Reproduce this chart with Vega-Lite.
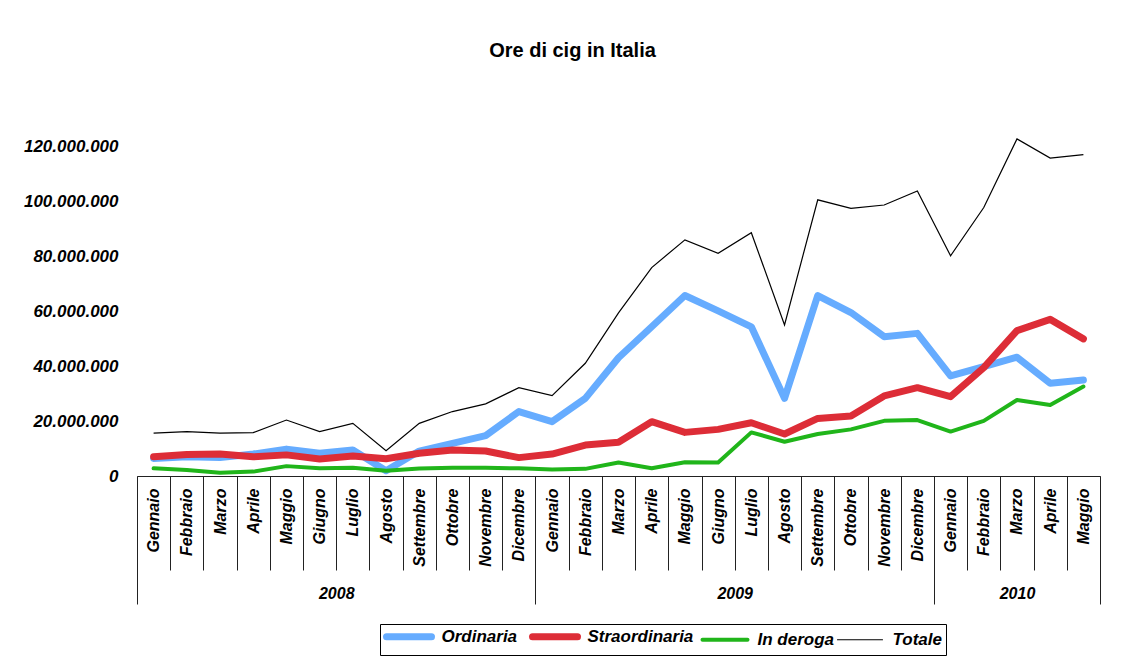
{
  "$schema": "https://vega.github.io/schema/vega-lite/v6.json",
  "width": 963,
  "height": 384,
  "autosize": {"type": "none"},
  "padding": {"left": 137, "top": 92, "right": 30, "bottom": 181},
  "background": "white",
  "title": {"text": "Ore di cig in Italia", "font": "Liberation Sans", "fontSize": 20, "fontWeight": "bold", "color": "black", "anchor": "middle", "dx": -46, "offset": 31},
  "datasets": {
    "cig": [
      {"i":0,"anno":2008,"mese":"Gennaio","serie":"Ordinaria","v":6400000},
      {"i":1,"anno":2008,"mese":"Febbraio","serie":"Ordinaria","v":7000000},
      {"i":2,"anno":2008,"mese":"Marzo","serie":"Ordinaria","v":6700000},
      {"i":3,"anno":2008,"mese":"Aprile","serie":"Ordinaria","v":8000000},
      {"i":4,"anno":2008,"mese":"Maggio","serie":"Ordinaria","v":9800000},
      {"i":5,"anno":2008,"mese":"Giugno","serie":"Ordinaria","v":8300000},
      {"i":6,"anno":2008,"mese":"Luglio","serie":"Ordinaria","v":9500000},
      {"i":7,"anno":2008,"mese":"Agosto","serie":"Ordinaria","v":1900000},
      {"i":8,"anno":2008,"mese":"Settembre","serie":"Ordinaria","v":9100000},
      {"i":9,"anno":2008,"mese":"Ottobre","serie":"Ordinaria","v":11900000},
      {"i":10,"anno":2008,"mese":"Novembre","serie":"Ordinaria","v":14700000},
      {"i":11,"anno":2008,"mese":"Dicembre","serie":"Ordinaria","v":23500000},
      {"i":12,"anno":2009,"mese":"Gennaio","serie":"Ordinaria","v":19800000},
      {"i":13,"anno":2009,"mese":"Febbraio","serie":"Ordinaria","v":28300000},
      {"i":14,"anno":2009,"mese":"Marzo","serie":"Ordinaria","v":43100000},
      {"i":15,"anno":2009,"mese":"Aprile","serie":"Ordinaria","v":54400000},
      {"i":16,"anno":2009,"mese":"Maggio","serie":"Ordinaria","v":65800000},
      {"i":17,"anno":2009,"mese":"Giugno","serie":"Ordinaria","v":60200000},
      {"i":18,"anno":2009,"mese":"Luglio","serie":"Ordinaria","v":54400000},
      {"i":19,"anno":2009,"mese":"Agosto","serie":"Ordinaria","v":28300000},
      {"i":20,"anno":2009,"mese":"Settembre","serie":"Ordinaria","v":65800000},
      {"i":21,"anno":2009,"mese":"Ottobre","serie":"Ordinaria","v":59600000},
      {"i":22,"anno":2009,"mese":"Novembre","serie":"Ordinaria","v":50800000},
      {"i":23,"anno":2009,"mese":"Dicembre","serie":"Ordinaria","v":52000000},
      {"i":24,"anno":2010,"mese":"Gennaio","serie":"Ordinaria","v":36500000},
      {"i":25,"anno":2010,"mese":"Febbraio","serie":"Ordinaria","v":39900000},
      {"i":26,"anno":2010,"mese":"Marzo","serie":"Ordinaria","v":43300000},
      {"i":27,"anno":2010,"mese":"Aprile","serie":"Ordinaria","v":33800000},
      {"i":28,"anno":2010,"mese":"Maggio","serie":"Ordinaria","v":35000000},
      {"i":0,"anno":2008,"mese":"Gennaio","serie":"Straordinaria","v":7000000},
      {"i":1,"anno":2008,"mese":"Febbraio","serie":"Straordinaria","v":7800000},
      {"i":2,"anno":2008,"mese":"Marzo","serie":"Straordinaria","v":8000000},
      {"i":3,"anno":2008,"mese":"Aprile","serie":"Straordinaria","v":7000000},
      {"i":4,"anno":2008,"mese":"Maggio","serie":"Straordinaria","v":7700000},
      {"i":5,"anno":2008,"mese":"Giugno","serie":"Straordinaria","v":6200000},
      {"i":6,"anno":2008,"mese":"Luglio","serie":"Straordinaria","v":7300000},
      {"i":7,"anno":2008,"mese":"Agosto","serie":"Straordinaria","v":6300000},
      {"i":8,"anno":2008,"mese":"Settembre","serie":"Straordinaria","v":8300000},
      {"i":9,"anno":2008,"mese":"Ottobre","serie":"Straordinaria","v":9500000},
      {"i":10,"anno":2008,"mese":"Novembre","serie":"Straordinaria","v":9100000},
      {"i":11,"anno":2008,"mese":"Dicembre","serie":"Straordinaria","v":6700000},
      {"i":12,"anno":2009,"mese":"Gennaio","serie":"Straordinaria","v":8000000},
      {"i":13,"anno":2009,"mese":"Febbraio","serie":"Straordinaria","v":11300000},
      {"i":14,"anno":2009,"mese":"Marzo","serie":"Straordinaria","v":12300000},
      {"i":15,"anno":2009,"mese":"Aprile","serie":"Straordinaria","v":19800000},
      {"i":16,"anno":2009,"mese":"Maggio","serie":"Straordinaria","v":15900000},
      {"i":17,"anno":2009,"mese":"Giugno","serie":"Straordinaria","v":17000000},
      {"i":18,"anno":2009,"mese":"Luglio","serie":"Straordinaria","v":19400000},
      {"i":19,"anno":2009,"mese":"Agosto","serie":"Straordinaria","v":15300000},
      {"i":20,"anno":2009,"mese":"Settembre","serie":"Straordinaria","v":21000000},
      {"i":21,"anno":2009,"mese":"Ottobre","serie":"Straordinaria","v":21900000},
      {"i":22,"anno":2009,"mese":"Novembre","serie":"Straordinaria","v":29200000},
      {"i":23,"anno":2009,"mese":"Dicembre","serie":"Straordinaria","v":32200000},
      {"i":24,"anno":2010,"mese":"Gennaio","serie":"Straordinaria","v":28900000},
      {"i":25,"anno":2010,"mese":"Febbraio","serie":"Straordinaria","v":39500000},
      {"i":26,"anno":2010,"mese":"Marzo","serie":"Straordinaria","v":53000000},
      {"i":27,"anno":2010,"mese":"Aprile","serie":"Straordinaria","v":57100000},
      {"i":28,"anno":2010,"mese":"Maggio","serie":"Straordinaria","v":50000000},
      {"i":0,"anno":2008,"mese":"Gennaio","serie":"In deroga","v":2800000},
      {"i":1,"anno":2008,"mese":"Febbraio","serie":"In deroga","v":2200000},
      {"i":2,"anno":2008,"mese":"Marzo","serie":"In deroga","v":1200000},
      {"i":3,"anno":2008,"mese":"Aprile","serie":"In deroga","v":1600000},
      {"i":4,"anno":2008,"mese":"Maggio","serie":"In deroga","v":3600000},
      {"i":5,"anno":2008,"mese":"Giugno","serie":"In deroga","v":2800000},
      {"i":6,"anno":2008,"mese":"Luglio","serie":"In deroga","v":3000000},
      {"i":7,"anno":2008,"mese":"Agosto","serie":"In deroga","v":1900000},
      {"i":8,"anno":2008,"mese":"Settembre","serie":"In deroga","v":2700000},
      {"i":9,"anno":2008,"mese":"Ottobre","serie":"In deroga","v":3000000},
      {"i":10,"anno":2008,"mese":"Novembre","serie":"In deroga","v":3000000},
      {"i":11,"anno":2008,"mese":"Dicembre","serie":"In deroga","v":2800000},
      {"i":12,"anno":2009,"mese":"Gennaio","serie":"In deroga","v":2400000},
      {"i":13,"anno":2009,"mese":"Febbraio","serie":"In deroga","v":2600000},
      {"i":14,"anno":2009,"mese":"Marzo","serie":"In deroga","v":4900000},
      {"i":15,"anno":2009,"mese":"Aprile","serie":"In deroga","v":2800000},
      {"i":16,"anno":2009,"mese":"Maggio","serie":"In deroga","v":5000000},
      {"i":17,"anno":2009,"mese":"Giugno","serie":"In deroga","v":4900000},
      {"i":18,"anno":2009,"mese":"Luglio","serie":"In deroga","v":15900000},
      {"i":19,"anno":2009,"mese":"Agosto","serie":"In deroga","v":12500000},
      {"i":20,"anno":2009,"mese":"Settembre","serie":"In deroga","v":15300000},
      {"i":21,"anno":2009,"mese":"Ottobre","serie":"In deroga","v":17000000},
      {"i":22,"anno":2009,"mese":"Novembre","serie":"In deroga","v":20100000},
      {"i":23,"anno":2009,"mese":"Dicembre","serie":"In deroga","v":20400000},
      {"i":24,"anno":2010,"mese":"Gennaio","serie":"In deroga","v":16200000},
      {"i":25,"anno":2010,"mese":"Febbraio","serie":"In deroga","v":20100000},
      {"i":26,"anno":2010,"mese":"Marzo","serie":"In deroga","v":27700000},
      {"i":27,"anno":2010,"mese":"Aprile","serie":"In deroga","v":25900000},
      {"i":28,"anno":2010,"mese":"Maggio","serie":"In deroga","v":32600000},
      {"i":0,"anno":2008,"mese":"Gennaio","serie":"Totale","v":15600000},
      {"i":1,"anno":2008,"mese":"Febbraio","serie":"Totale","v":16200000},
      {"i":2,"anno":2008,"mese":"Marzo","serie":"Totale","v":15600000},
      {"i":3,"anno":2008,"mese":"Aprile","serie":"Totale","v":15800000},
      {"i":4,"anno":2008,"mese":"Maggio","serie":"Totale","v":20400000},
      {"i":5,"anno":2008,"mese":"Giugno","serie":"Totale","v":16200000},
      {"i":6,"anno":2008,"mese":"Luglio","serie":"Totale","v":19200000},
      {"i":7,"anno":2008,"mese":"Agosto","serie":"Totale","v":9200000},
      {"i":8,"anno":2008,"mese":"Settembre","serie":"Totale","v":19200000},
      {"i":9,"anno":2008,"mese":"Ottobre","serie":"Totale","v":23500000},
      {"i":10,"anno":2008,"mese":"Novembre","serie":"Totale","v":26300000},
      {"i":11,"anno":2008,"mese":"Dicembre","serie":"Totale","v":32200000},
      {"i":12,"anno":2009,"mese":"Gennaio","serie":"Totale","v":29300000},
      {"i":13,"anno":2009,"mese":"Febbraio","serie":"Totale","v":41100000},
      {"i":14,"anno":2009,"mese":"Marzo","serie":"Totale","v":59500000},
      {"i":15,"anno":2009,"mese":"Aprile","serie":"Totale","v":76000000},
      {"i":16,"anno":2009,"mese":"Maggio","serie":"Totale","v":86100000},
      {"i":17,"anno":2009,"mese":"Giugno","serie":"Totale","v":81200000},
      {"i":18,"anno":2009,"mese":"Luglio","serie":"Totale","v":88700000},
      {"i":19,"anno":2009,"mese":"Agosto","serie":"Totale","v":55100000},
      {"i":20,"anno":2009,"mese":"Settembre","serie":"Totale","v":100700000},
      {"i":21,"anno":2009,"mese":"Ottobre","serie":"Totale","v":97600000},
      {"i":22,"anno":2009,"mese":"Novembre","serie":"Totale","v":98800000},
      {"i":23,"anno":2009,"mese":"Dicembre","serie":"Totale","v":103900000},
      {"i":24,"anno":2010,"mese":"Gennaio","serie":"Totale","v":80300000},
      {"i":25,"anno":2010,"mese":"Febbraio","serie":"Totale","v":97900000},
      {"i":26,"anno":2010,"mese":"Marzo","serie":"Totale","v":122900000},
      {"i":27,"anno":2010,"mese":"Aprile","serie":"Totale","v":115900000},
      {"i":28,"anno":2010,"mese":"Maggio","serie":"Totale","v":117200000}
    ]
  },
  "data": {"name": "cig"},
  "encoding": {
    "y": {
      "field": "v", "type": "quantitative",
      "scale": {"domain": [0, 140000000], "nice": false},
      "axis": {
        "title": null, "ticks": false, "domain": false, "grid": false,
        "values": [0, 20000000, 40000000, 60000000, 80000000, 100000000, 120000000],
        "labelExpr": "replace(format(datum.value, ','), regexp(',', 'g'), '.')",
        "labelPadding": 19,
        "labelFont": "Liberation Sans", "labelFontSize": 17, "labelFontWeight": "bold", "labelFontStyle": "italic", "labelColor": "black"
      }
    },
    "color": {
      "field": "serie", "type": "nominal",
      "scale": {"domain": ["Ordinaria", "Straordinaria", "In deroga", "Totale"], "range": ["#66ACFF", "#DD2D37", "#20B51A", "#000000"]},
      "legend": {
        "orient": "none", "legendX": 243, "legendY": 532, "direction": "horizontal", "title": null,
        "strokeColor": "black", "fillColor": "white", "padding": 4,
        "symbolType": "stroke", "symbolSize": 49, "symbolOffset": 16.5,
        "labelFont": "Liberation Sans", "labelFontSize": 17, "labelFontWeight": "bold", "labelFontStyle": "italic", "labelColor": "black",
        "labelOffset": 24, "columnPadding": 0,
        "encode": {"symbols": {"update": {"size": {"value": 2025}, "strokeCap": {"value": "round"}, "strokeWidth": {"signal": "datum.value === 'Totale' ? 1.2 : datum.value === 'In deroga' ? 4 : 7"}}}}
      }
    }
  },
  "layer": [
    {
      "transform": [{"filter": "datum.serie === 'Ordinaria'"}],
      "mark": {"type": "line", "strokeWidth": 7, "strokeJoin": "round", "strokeCap": "round"},
      "encoding": {
        "x": {
          "field": "i", "type": "quantitative",
          "scale": {"domain": [-0.5, 28.5], "nice": false, "zero": false},
          "axis": {
            "orient": "bottom", "title": null, "grid": false,
            "values": [-0.5, 0.5, 1.5, 2.5, 3.5, 4.5, 5.5, 6.5, 7.5, 8.5, 9.5, 10.5, 11.5, 12.5, 13.5, 14.5, 15.5, 16.5, 17.5, 18.5, 19.5, 20.5, 21.5, 22.5, 23.5, 24.5, 25.5, 26.5, 27.5, 28.5],
            "labelExpr": "datum.value < 28 ? ['Gennaio','Febbraio','Marzo','Aprile','Maggio','Giugno','Luglio','Agosto','Settembre','Ottobre','Novembre','Dicembre'][(datum.value + 0.5) % 12] : ''",
            "tickSize": 94, "tickColor": "#222222", "tickWidth": 1,
            "domainColor": "#222222", "domainWidth": 1,
            "labelAngle": -90, "labelAlign": "right", "labelBaseline": "middle",
            "labelOffset": 16.6, "labelPadding": -82, "labelFlush": false, "labelOverlap": false,
            "labelFont": "Liberation Sans", "labelFontSize": 16, "labelFontWeight": "bold", "labelFontStyle": "italic", "labelColor": "black"
          }
        }
      }
    },
    {
      "transform": [{"filter": "datum.serie === 'Straordinaria'"}],
      "mark": {"type": "line", "strokeWidth": 7, "strokeJoin": "round", "strokeCap": "round"},
      "encoding": {
        "x": {"field": "i", "type": "quantitative", "scale": {"domain": [-0.5, 28.5], "nice": false, "zero": false}, "axis": null}
      }
    },
    {
      "transform": [{"filter": "datum.serie === 'In deroga'"}],
      "mark": {"type": "line", "strokeWidth": 4, "strokeJoin": "round", "strokeCap": "round"},
      "encoding": {
        "x": {"field": "i", "type": "quantitative", "scale": {"domain": [-0.5, 28.5], "nice": false, "zero": false}, "axis": null}
      }
    },
    {
      "transform": [{"filter": "datum.serie === 'Totale'"}],
      "mark": {"type": "line", "strokeWidth": 1.2},
      "encoding": {
        "x": {
          "field": "i", "type": "quantitative",
          "scale": {"domain": [-0.5, 28.5], "nice": false, "zero": false},
          "axis": {
            "orient": "bottom", "title": null, "grid": false, "domain": false,
            "values": [-0.5, 5.5, 11.5, 17.5, 23.5, 26, 28.5],
            "labelExpr": "datum.value == 5.5 ? '2008' : datum.value == 17.5 ? '2009' : datum.value == 26 ? '2010' : ''",
            "tickSize": 128, "tickColor": "#222222", "tickWidth": 1,
            "tickOpacity": {"condition": {"test": "datum.value == 5.5 || datum.value == 17.5 || datum.value == 26", "value": 0}, "value": 1},
            "labelAngle": 0, "labelAlign": "center", "labelBaseline": "top",
            "labelPadding": -19, "labelFlush": false, "labelOverlap": false,
            "labelFont": "Liberation Sans", "labelFontSize": 16, "labelFontWeight": "bold", "labelFontStyle": "italic", "labelColor": "black"
          }
        }
      }
    }
  ],
  "resolve": {"axis": {"x": "independent"}},
  "config": {"view": {"stroke": null}}
}
